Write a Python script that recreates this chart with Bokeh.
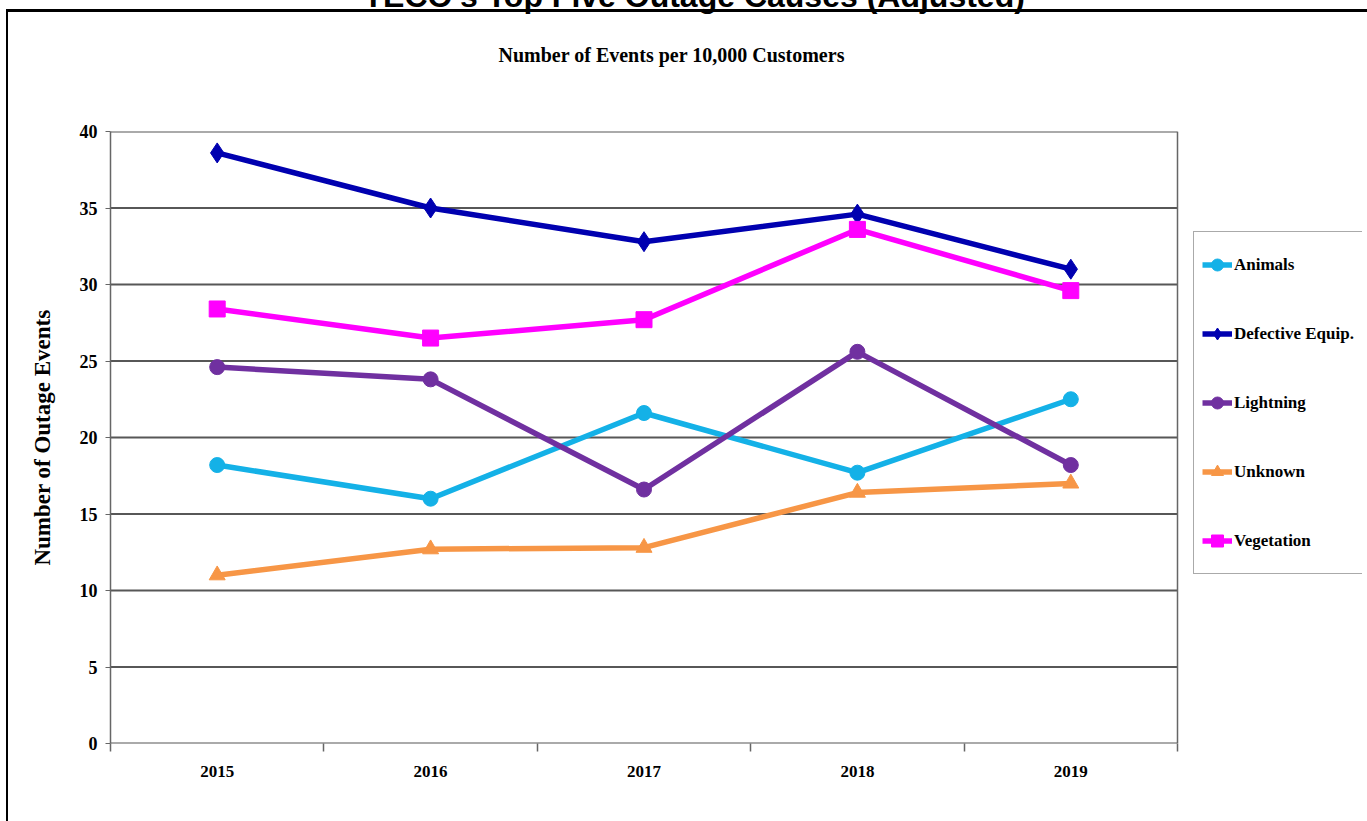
from bokeh.plotting import figure
from bokeh.models import Range1d, FixedTicker, Legend, LegendItem, Title
from bokeh.embed import file_html
from bokeh.resources import INLINE

# ---- data ----
years = ["2015", "2016", "2017", "2018", "2019"]
animals = [18.2, 16.0, 21.6, 17.7, 22.5]
defective = [38.6, 35.0, 32.8, 34.6, 31.0]
lightning = [24.6, 23.8, 16.6, 25.6, 18.2]
unknown = [11.0, 12.7, 12.8, 16.4, 17.0]
vegetation = [28.4, 26.5, 27.7, 33.6, 29.6]
series_names = ["Animals", "Defective Equip.", "Lightning", "Unknown", "Vegetation"]
y_ticks = [0, 5, 10, 15, 20, 25, 30, 35, 40]
heading = "TECO's Top Five Outage Causes (Adjusted)"
title_text = "Number of Events per 10,000 Customers"
y_label = "Number of Outage Events"

FONT = "Liberation Serif"
GRID = "#575757"
SHIFT = 28                      # canvas is pulled up so the page heading is cropped
W, H = 1367, 821 + SHIFT
FRAME_L, PLOT_R, FRAME_R = 110, 1177, 1362   # plot area spans to PLOT_R, frame to FRAME_R
FRAME_T, FRAME_B = 131 + SHIFT, 743 + SHIFT

n = len(years)
xpos = [i + 0.5 for i in range(n)]  # category centres on a 0..n axis
x_end = n * (FRAME_R - FRAME_L) / (PLOT_R - FRAME_L)

page_style = {
    "margin-top": f"-{SHIFT}px",
    "background": (f"linear-gradient(#000,#000) 6px {SHIFT + 9}px / 2px 100% no-repeat, "
                   f"linear-gradient(#000,#000) 6px {SHIFT + 9}px / 100% 3px no-repeat, #ffffff"),
}

p = figure(width=W, height=H, x_range=Range1d(0, x_end), y_range=Range1d(0, 40),
           output_backend="svg", toolbar_location=None, title_location=None,
           min_border_left=FRAME_L, min_border_top=FRAME_T,
           min_border_right=W - FRAME_R, min_border_bottom=H - FRAME_B,
           styles=page_style)
p.background_fill_color = "white"
p.border_fill_alpha = 0
p.outline_line_color = None
p.xgrid.visible = False
p.ygrid.visible = False

# y axis
ya = p.yaxis[0]
ya.ticker = FixedTicker(ticks=y_ticks)
ya.axis_line_color = "#666666"
ya.axis_line_width = 1.5
ya.major_tick_out = 5
ya.major_tick_in = 0
ya.major_tick_line_color = "#666666"
ya.minor_tick_line_color = None
ya.major_label_text_font = FONT
ya.major_label_text_font_style = "bold"
ya.major_label_text_font_size = "18px"
ya.major_label_text_color = "black"
ya.major_label_standoff = 8
ya.axis_label = y_label
ya.axis_label_text_font = FONT
ya.axis_label_text_font_style = "bold"
ya.axis_label_text_font_size = "23px"
ya.axis_label_text_color = "black"
ya.axis_label_standoff = 22

# x axis: labels at category centres, tick marks at category boundaries
xa = p.xaxis[0]
xa.ticker = FixedTicker(ticks=xpos, minor_ticks=list(range(n + 1)))
xa.major_label_overrides = {x: y for x, y in zip(xpos, years)}
xa.axis_line_color = None
xa.major_tick_line_color = None
xa.major_tick_out = 0
xa.major_tick_in = 0
xa.minor_tick_out = 8
xa.minor_tick_in = 0
xa.minor_tick_line_color = "#666666"
xa.minor_tick_line_width = 1.5
xa.major_label_text_font = FONT
xa.major_label_text_font_style = "bold"
xa.major_label_text_font_size = "17px"
xa.major_label_text_color = "black"
xa.major_label_standoff = 14

# plot-area gridlines and right edge (limited to the category span)
p.segment(x0=0, x1=n, y0=y_ticks, y1=y_ticks, line_color=GRID, line_width=2)
p.segment(x0=n, x1=n, y0=y_ticks[0], y1=y_ticks[-1], line_color="#666666",
          line_width=1.5)

# series
specs = [
    (animals, "#14B1E7", "circle", 15),
    (defective, "#0000B0", "diamond", 20),
    (lightning, "#7030A0", "circle", 15),
    (unknown, "#F79646", "triangle", 16),
    (vegetation, "#FF00FF", "square", 16),
]
items = []
for name, (vals, color, marker, msize) in zip(series_names, specs):
    r_line = p.line(xpos, vals, line_color=color, line_width=5.5)
    r_mark = p.scatter(xpos, vals, marker=marker, size=msize, fill_color=color,
                       line_color=color)
    items.append(LegendItem(label=name, renderers=[r_line, r_mark]))

legend = Legend(items=items, location=(1193 - FRAME_L, 743 - 574), margin=0, padding=8,
                spacing=20, glyph_width=30, glyph_height=49, label_height=49,
                label_standoff=2, label_text_font=FONT,
                label_text_font_style="bold", label_text_font_size="17px",
                label_text_color="black", border_line_color="#555555",
                border_line_width=1.5, background_fill_color="white",
                background_fill_alpha=1.0)
p.add_layout(legend, "center")

# headings: blank spacer panel, subtitle, then cropped page heading
p.add_layout(Title(text=" ", text_font_size="10px", standoff=26, text_color="white"),
             "above")
p.add_layout(Title(text=title_text, align="left", offset=388, vertical_align="bottom",
                   standoff=53, text_font=FONT, text_font_style="bold",
                   text_font_size="20px", text_color="black"), "above")
p.add_layout(Title(text=heading, align="left", offset=253, vertical_align="top",
                   standoff=0, text_font="Liberation Sans", text_font_style="bold",
                   text_font_size="32px", text_color="black"), "above")

open("out.html", "w").write(file_html(p, INLINE))
